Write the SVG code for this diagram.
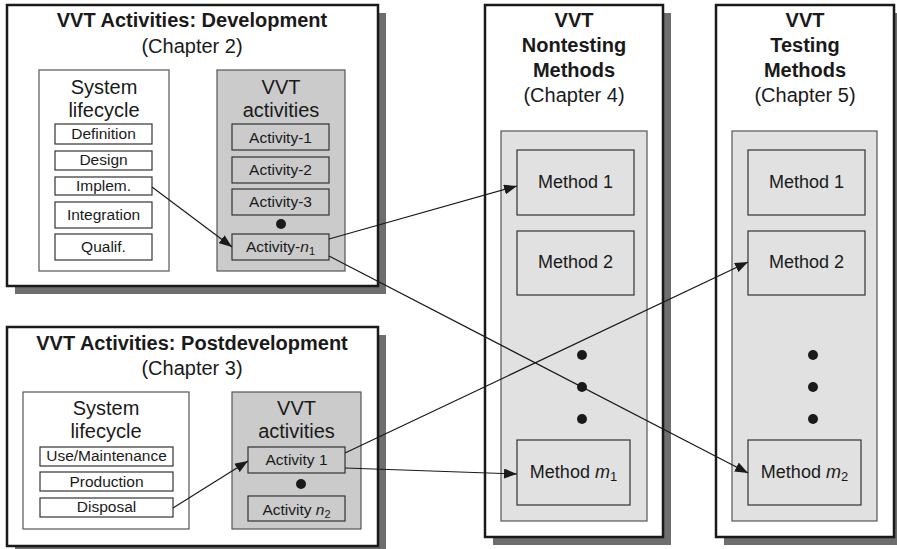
<svg xmlns="http://www.w3.org/2000/svg" width="897" height="549" viewBox="0 0 897 549">
<style>
text{font-family:"Liberation Sans",Arial,sans-serif;fill:#1a1a1a;text-anchor:middle}
.t{font-size:20px;font-weight:bold}
.s{font-size:20px}
.b{font-size:15.5px}
.m{font-size:18px}
.shadow{fill:#6e6e6e}
.outer{fill:#fff;stroke:#1a1a1a;stroke-width:2.5}
.life{fill:#fff;stroke:#555;stroke-width:1.2}
.item{fill:#fff;stroke:#333;stroke-width:1.2}
.act{fill:#cbcbcb;stroke:#555;stroke-width:1.2}
.aitem{fill:#cbcbcb;stroke:#333;stroke-width:1.2}
.mbox{fill:#e1e1e1;stroke:#555;stroke-width:1.2}
.mitem{fill:#e1e1e1;stroke:#333;stroke-width:1.2}
.dot{fill:#1a1a1a}
.c{fill:none;stroke:#1a1a1a;stroke-width:1.2}
</style>
<defs>
<marker id="ah" markerUnits="userSpaceOnUse" markerWidth="14" markerHeight="10" refX="13" refY="5" orient="auto">
<path d="M0,0 L13,5 L0,10 z" fill="#1a1a1a"/>
</marker>
</defs>

<g id="development">
<rect class="shadow" x="15" y="13" width="371" height="281"/>
<rect class="outer" x="7" y="5" width="371" height="281"/>
<text class="t" x="192" y="27">VVT Activities: Development</text>
<text class="s" x="192" y="53">(Chapter 2)</text>
<g id="dev-lifecycle">
<rect class="life" x="39" y="70" width="130" height="201"/>
<text class="s" x="104" y="94">System</text>
<text class="s" x="104" y="117">lifecycle</text>
<rect class="item" x="55" y="124" width="97" height="20"/>
<text class="b" x="103.5" y="139">Definition</text>
<rect class="item" x="55" y="151" width="97" height="19"/>
<text class="b" x="103.5" y="165">Design</text>
<rect class="item" x="55" y="177" width="97" height="18"/>
<text class="b" x="103.5" y="191">Implem.</text>
<rect class="item" x="55" y="202" width="97" height="26"/>
<text class="b" x="103.5" y="220">Integration</text>
<rect class="item" x="55" y="234" width="97" height="26"/>
<text class="b" x="103.5" y="252">Qualif.</text>
</g>
<g id="dev-activities">
<rect class="act" x="217" y="70" width="128" height="201"/>
<text class="s" x="281" y="94">VVT</text>
<text class="s" x="281" y="117">activities</text>
<rect class="aitem" x="232" y="124" width="97" height="26"/>
<text class="b" x="280.5" y="143">Activity-1</text>
<rect class="aitem" x="232" y="157" width="97" height="26"/>
<text class="b" x="280.5" y="175">Activity-2</text>
<rect class="aitem" x="232" y="189" width="97" height="26"/>
<text class="b" x="280.5" y="207">Activity-3</text>
<circle class="dot" cx="281" cy="224" r="5"/>
<rect class="aitem" x="232" y="234" width="97" height="26"/>
<text class="b" x="280.5" y="252">Activity-<tspan font-style="italic">n</tspan><tspan font-size="11" dy="3">1</tspan></text>
</g>
</g>

<g id="postdevelopment">
<rect class="shadow" x="15" y="335" width="371" height="219"/>
<rect class="outer" x="7" y="327" width="371" height="219"/>
<text class="t" x="192" y="350">VVT Activities: Postdevelopment</text>
<text class="s" x="192" y="375">(Chapter 3)</text>
<g id="post-lifecycle">
<rect class="life" x="23" y="392" width="166" height="137"/>
<text class="s" x="106" y="415">System</text>
<text class="s" x="106" y="438">lifecycle</text>
<rect class="item" x="40" y="447" width="133" height="19"/>
<text class="b" x="106.5" y="461">Use/Maintenance</text>
<rect class="item" x="40" y="472" width="133" height="19"/>
<text class="b" x="106.5" y="487">Production</text>
<rect class="item" x="40" y="498" width="133" height="19"/>
<text class="b" x="106.5" y="512">Disposal</text>
</g>
<g id="post-activities">
<rect class="act" x="232" y="392" width="129" height="137"/>
<text class="s" x="296.5" y="415">VVT</text>
<text class="s" x="296.5" y="438">activities</text>
<rect class="aitem" x="248" y="447" width="97" height="26"/>
<text class="b" x="296.5" y="465">Activity 1</text>
<circle class="dot" cx="301" cy="484" r="5"/>
<rect class="aitem" x="248" y="496" width="97" height="25"/>
<text class="b" x="296.5" y="515">Activity <tspan font-style="italic">n</tspan><tspan font-size="11" dy="3">2</tspan></text>
</g>
</g>

<g id="nontesting">
<rect class="shadow" x="493" y="13" width="178" height="532"/>
<rect class="outer" x="485" y="5" width="178" height="532"/>
<text class="t" x="574" y="27">VVT</text>
<text class="t" x="574" y="52">Nontesting</text>
<text class="t" x="574" y="77">Methods</text>
<text class="s" x="574" y="102">(Chapter 4)</text>
<rect class="mbox" x="501" y="131" width="146" height="390"/>
<rect class="mitem" x="517" y="150" width="117" height="65"/>
<text class="m" x="575.5" y="188">Method 1</text>
<rect class="mitem" x="517" y="231" width="117" height="64"/>
<text class="m" x="575.5" y="268">Method 2</text>
<circle class="dot" cx="582" cy="355" r="5"/>
<circle class="dot" cx="582" cy="387" r="5"/>
<circle class="dot" cx="582" cy="419" r="5"/>
<rect class="mitem" x="517" y="440" width="113" height="65"/>
<text class="m" x="573.5" y="478">Method <tspan font-style="italic">m</tspan><tspan font-size="13" dy="3">1</tspan></text>
</g>

<g id="testing">
<rect class="shadow" x="724" y="13" width="178" height="532"/>
<rect class="outer" x="716" y="5" width="178" height="532"/>
<text class="t" x="805" y="27">VVT</text>
<text class="t" x="805" y="52">Testing</text>
<text class="t" x="805" y="77">Methods</text>
<text class="s" x="805" y="102">(Chapter 5)</text>
<rect class="mbox" x="732" y="131" width="145" height="390"/>
<rect class="mitem" x="748" y="150" width="117" height="65"/>
<text class="m" x="806.5" y="188">Method 1</text>
<rect class="mitem" x="748" y="231" width="117" height="64"/>
<text class="m" x="806.5" y="268">Method 2</text>
<circle class="dot" cx="813" cy="355" r="5"/>
<circle class="dot" cx="813" cy="387" r="5"/>
<circle class="dot" cx="813" cy="419" r="5"/>
<rect class="mitem" x="748" y="440" width="113" height="65"/>
<text class="m" x="804.5" y="478">Method <tspan font-style="italic">m</tspan><tspan font-size="13" dy="3">2</tspan></text>
</g>

<g id="connectors">
<line class="c" x1="152" y1="187" x2="232" y2="247" marker-end="url(#ah)"/>
<line class="c" x1="329" y1="239" x2="517" y2="186" marker-end="url(#ah)"/>
<line class="c" x1="329" y1="256" x2="748" y2="473" marker-end="url(#ah)"/>
<line class="c" x1="173" y1="508" x2="248" y2="461" marker-end="url(#ah)"/>
<line class="c" x1="345" y1="453" x2="748" y2="262" marker-end="url(#ah)"/>
<line class="c" x1="345" y1="468" x2="517" y2="474" marker-end="url(#ah)"/>
</g>
</svg>
